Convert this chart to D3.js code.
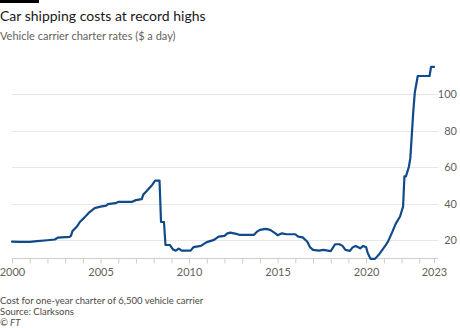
<!DOCTYPE html>
<html>
<head>
<meta charset="utf-8">
<script src="https://cdn.jsdelivr.net/npm/d3@7/dist/d3.min.js"></script>
<style>
  html, body { margin: 0; padding: 0; background: #fff; }
  svg { display: block; font-family: Lato, "Open Sans", sans-serif; }
</style>
</head>
<body>
<svg id="chart" width="460" height="328"></svg>
<script>
// Monthly observations: one-year charter rate, 6,500-vehicle carrier ($'000 a day)
const dates = [
  "2000-01","2000-06","2001-01","2001-06","2002-01","2002-06","2002-08","2003-04","2003-05","2003-06",
  "2003-09","2003-11","2004-02","2004-05","2004-09","2005-01","2005-05","2005-06","2005-11","2006-01",
  "2006-10","2007-01","2007-05","2007-06","2007-08","2007-10","2007-12","2008-02","2008-05","2008-06",
  "2008-08","2008-09","2008-12","2009-02","2009-04","2009-06","2009-08","2010-02","2010-04","2010-09",
  "2011-01","2011-06","2011-09","2012-01","2012-03","2012-05","2012-09","2012-11","2013-09","2013-11",
  "2014-01","2014-05","2014-08","2014-12","2015-01","2015-04","2015-07","2016-01","2016-03","2016-06",
  "2016-09","2016-11","2017-01","2017-05","2017-08","2018-01","2018-04","2018-07","2018-09","2018-11",
  "2019-02","2019-04","2019-06","2019-09","2019-11","2020-01","2020-02","2020-04","2020-07","2020-10",
  "2021-02","2021-04","2021-07","2021-09","2021-12","2022-02","2022-03","2022-04","2022-06","2022-07",
  "2022-08","2022-09","2022-10","2022-12","2023-08","2023-09","2023-11"
];
const rates = [
  19.3,19.1,19.1,19.5,20.0,20.4,21.4,21.8,22.4,25.0,
  27.5,30.0,32.4,35.0,37.6,38.4,39.0,39.8,40.3,41.0,
  41.0,42.0,42.5,45.0,46.7,48.5,50.3,52.7,52.7,30.0,
  30.0,17.4,17.4,15.0,14.3,15.4,14.3,14.3,16.2,16.9,
  19.0,20.2,22.0,22.4,23.8,24.2,23.5,23.0,23.0,24.7,
  25.7,26.2,25.7,23.5,22.7,23.8,23.3,23.3,22.0,21.6,
  19.3,16.2,14.7,14.3,14.7,14.0,17.8,17.8,16.9,14.7,
  14.2,16.2,16.9,15.6,16.9,16.2,13.2,9.8,9.8,12.5,
  17.0,19.5,25.0,29.0,33.0,38.4,55.0,55.0,60.3,65.0,
  78.0,91.0,101.0,110.0,110.0,115.0,115.0
];
const yTicks = [20, 40, 60, 80, 100];
const xTickYears = [2000, 2005, 2010, 2015, 2020];
const endLabel = "2023";

const parse = d3.timeParse("%Y-%m");
const series = dates.map((d, i) => ({ date: parse(d), value: rates[i] }));

const svg = d3.select("#chart");
const left = 12, right = 434, gridRight = 438;
const x = d3.scaleTime()
  .domain([series[0].date, series[series.length - 1].date])
  .range([left, right]);
const y = d3.scaleLinear().domain([10, 115]).range([258.5, 66.9]);

// Header
svg.append("rect").attr("x", 0).attr("y", 0).attr("width", 39).attr("height", 3).attr("fill", "#000");
svg.append("text").attr("x", 0).attr("y", 20.5)
  .attr("font-size", 14).attr("fill", "#1a1817")
  .text("Car shipping costs at record highs");
svg.append("text").attr("x", 0).attr("y", 40)
  .attr("font-size", 11).attr("fill", "#66605c")
  .text("Vehicle carrier charter rates ($ a day)");

// Gridlines and right-hand value labels
const grid = svg.append("g");
grid.selectAll("line").data(yTicks).join("line")
  .attr("x1", left).attr("x2", gridRight)
  .attr("y1", d => Math.round(y(d)) + 0.5).attr("y2", d => Math.round(y(d)) + 0.5)
  .attr("stroke", "#e9e7e5").attr("stroke-width", 1);
grid.selectAll("text").data(yTicks).join("text")
  .attr("x", 457).attr("y", d => y(d)).attr("dy", "0.35em")
  .attr("text-anchor", "end").attr("font-size", 11).attr("fill", "#66605c")
  .text(d => d);

// Time axis: yearly ticks, labelled every five years plus the final date
const yearTicks = d3.timeYear.range(x.domain()[0], x.domain()[1]);
yearTicks.push(x.domain()[1]);
const axis = d3.axisBottom(x)
  .tickValues(yearTicks)
  .tickSize(5)
  .tickFormat(d => {
    if (+d === +x.domain()[1]) return endLabel;
    return xTickYears.includes(d.getFullYear()) && d.getMonth() === 0 ? d.getFullYear() : "";
  });
const gx = svg.append("g").attr("transform", "translate(0,258.5)").call(axis);
gx.select(".domain").attr("d", `M${left},0H${gridRight}`).attr("stroke", "#cfccca");
gx.selectAll(".tick line").attr("stroke", "#cfccca");
gx.selectAll(".tick text").attr("font-size", 11).attr("fill", "#66605c")
  .attr("font-family", "Lato, sans-serif").attr("dy", "0.9em");

// Rate line
const line = d3.line().x(d => x(d.date)).y(d => y(d.value));
svg.append("path").datum(series)
  .attr("d", line).attr("fill", "none")
  .attr("stroke", "#0f4a8a").attr("stroke-width", 2.2)
  .attr("stroke-linejoin", "round").attr("stroke-linecap", "round");

// Footer
const foot = svg.append("g").attr("font-size", 9.5).attr("fill", "#4d4845");
foot.append("text").attr("x", 0).attr("y", 303.5).text("Cost for one-year charter of 6,500 vehicle carrier");
foot.append("text").attr("x", 0).attr("y", 315).text("Source: Clarksons");
foot.append("text").attr("x", 0).attr("y", 326).attr("font-style", "italic").text("© FT");
</script>
</body>
</html>
